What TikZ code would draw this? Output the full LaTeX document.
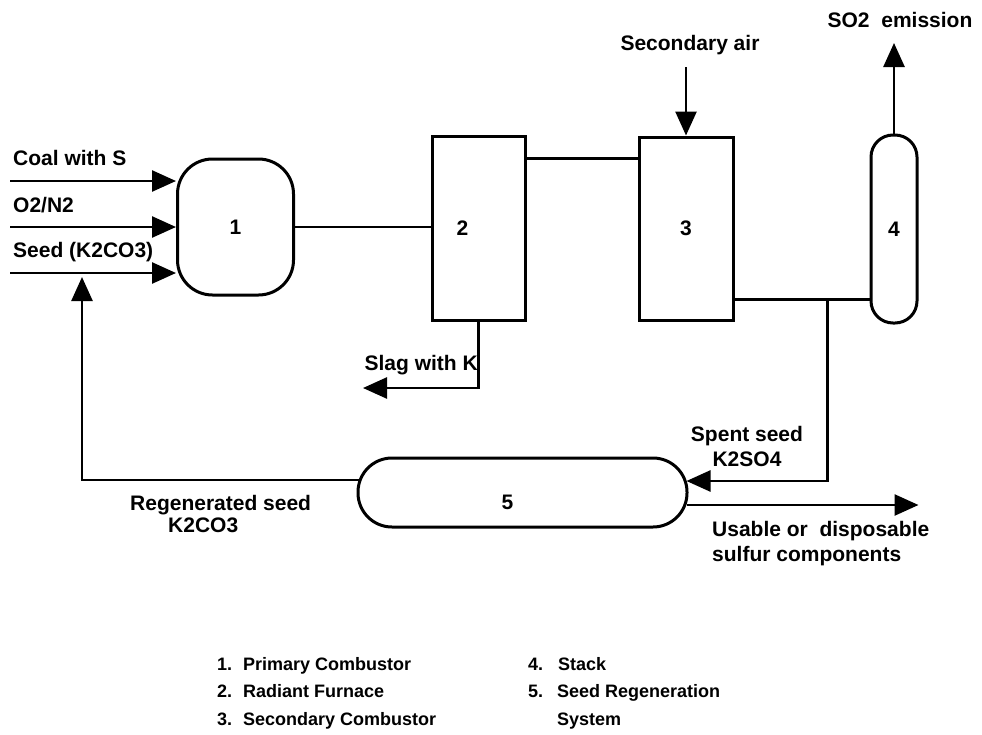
\documentclass[tikz,border=0pt]{standalone}
\usepackage{fontspec}
\setmainfont{Liberation Sans}
\usetikzlibrary{positioning,arrows.meta,calc}
\newcommand{\lblfont}{\fontsize{21}{25}\selectfont\bfseries}
\newcommand{\keyfont}{\fontsize{18}{27.5}\selectfont\bfseries}

\begin{document}
\begin{tikzpicture}[x=1pt,y=-1pt,>={Triangle[length=24pt,width=21pt]},
  unit/.style={draw,line width=3pt,inner sep=0pt,font=\lblfont},
  flow/.style={line width=2.6pt},
  lbl/.style={inner sep=0pt,font=\lblfont}]
  \useasboundingbox (0,0) rectangle (982,734);

  \node[unit,rounded corners=35pt,minimum width=116pt,minimum height=136pt] (prim) at (235.5,227) {1};
  \node[unit,minimum width=93pt,minimum height=184pt,label={[lbl,xshift=-16pt]center:2}] (rad) at (478.5,228) {};
  \node[unit,minimum width=94pt,minimum height=183pt] (sec) at (686,228.5) {3};
  \node[unit,rounded corners=22pt,minimum width=46pt,minimum height=188pt] (stack) at (894,229) {4};
  \node[unit,rounded corners=34pt,minimum width=329pt,minimum height=69pt,label={[lbl,xshift=-15pt,yshift=-10pt]center:5}] (regen) at (522.5,492.5) {};

  \coordinate (coalin) at (10,181);
  \coordinate (o2in) at (10,227);
  \coordinate (seedin) at (10,273);
  \draw[flow,->] (coalin) -- (coalin -| prim.west);
  \draw[flow,->] (o2in) -- (o2in -| prim.west);
  \draw[flow,->] (seedin) -- (seedin -| prim.west);
  \node[lbl,anchor=base west] (coal) at (13,165.5) {Coal with S};
  \node[lbl,anchor=base west] (o2) at (13,212.5) {O2/N2};
  \node[lbl,anchor=base west] (seed) at (13,257.5) {Seed (K2CO3)};

  \draw[flow] (prim.east) -- (prim.east -| rad.west);
  \coordinate (link) at ($(rad.north east)+(0,24)$);
  \draw[flow] (link) -- (link -| sec.west);

  \node[lbl,anchor=base] (air) at (690,50) {Secondary air};
  \coordinate (airin) at (sec.north |- 0,67);
  \draw[flow,->] (airin) -- (sec.north);

  \node[lbl,anchor=base] (so2) at (900,27) {SO2\ \ emission};
  \coordinate (so2out) at (stack.north |- 0,43);
  \draw[flow,->] (stack.north) -- (so2out);

  \coordinate (flue) at ($(sec.south east)+(0,-22)$);
  \draw[flow] (flue) -- (flue -| stack.west);
  \coordinate (tap) at ($(flue)+(93,0)$);
  \coordinate (spent) at ($(regen.east)+(-2,-11.5)$);
  \draw[flow,->] (tap) |- (spent);
  \node[lbl,align=center,anchor=north] (spenttxt) at (747,426) {Spent seed\\K2SO4};

  \coordinate (sulf) at ($(regen.east)+(-2,12.5)$);
  \coordinate (sulfout) at ($(sulf)+(232,0)$);
  \draw[flow,->] (sulf) -- (sulfout);
  \node[lbl,align=left,anchor=north west] (sulftxt) at (712,521) {Usable or\ \ disposable\\sulfur components};

  \coordinate (slagout) at (363,388);
  \draw[flow,->] (rad.south) |- (slagout);
  \node[lbl,anchor=base east] (slag) at (478,370.5) {Slag with K};

  \coordinate (regenout) at ($(regen.west)+(2,-12.5)$);
  \coordinate (seedret) at (82,277);
  \draw[flow,->] (regenout) -| (seedret);
  \node[lbl,align=left,anchor=north west] (regentxt) at (130,495) {Regenerated seed\\[-3pt]\hspace*{38pt}K2CO3};

  \node[inner sep=0pt,font=\keyfont,align=left,anchor=north west] (keyleft) at (217,657)
    {\makebox[26pt][l]{1.}Primary Combustor\\\makebox[26pt][l]{2.}Radiant Furnace\\\makebox[26pt][l]{3.}Secondary Combustor};
  \node[inner sep=0pt,font=\keyfont,align=left,anchor=north west] (keyright) at (528,657)
    {\makebox[30pt][l]{4.}Stack\\\makebox[29pt][l]{5.}Seed Regeneration\\\hspace*{29pt}System};
\end{tikzpicture}
\end{document}
